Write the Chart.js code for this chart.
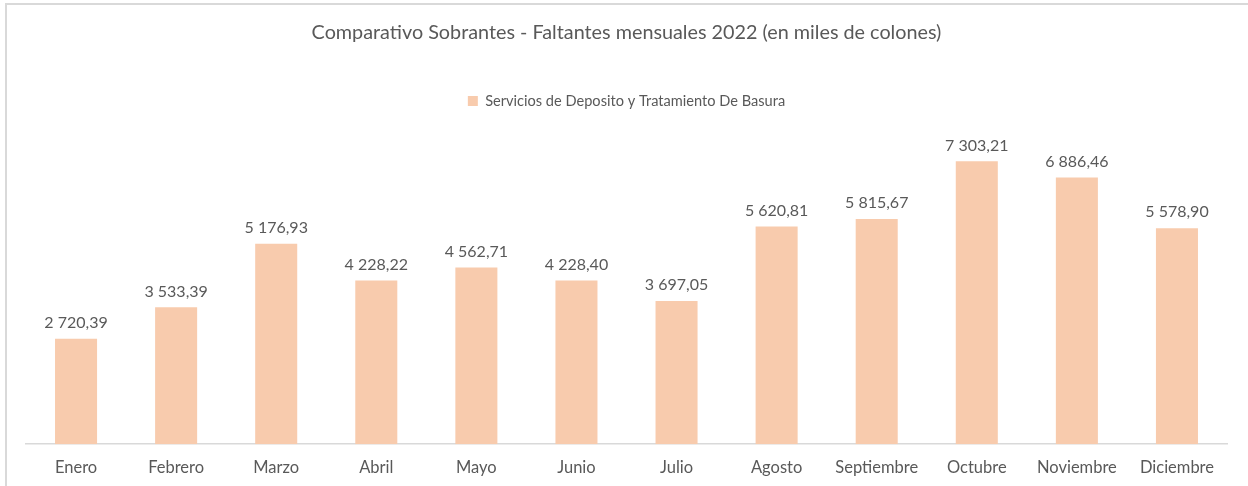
<!DOCTYPE html>
<html>
<head>
<meta charset="utf-8">
<script src="https://cdn.jsdelivr.net/npm/chart.js@4"></script>
<style>
  html, body { margin: 0; padding: 0; background: #fff; overflow: hidden; }
  #wrap { position: relative; width: 1248px; height: 486px; overflow: hidden; }
  #frame { position: absolute; left: 5px; top: 3px; width: 1300px; height: 600px; border: 2px solid #d9d9d9; box-sizing: border-box; }
  #box { position: absolute; left: 0; top: 0; width: 1248px; height: 500px; }
</style>
</head>
<body>
<div id="wrap">
  <div id="frame"></div>
  <div id="box"><canvas id="sobrantesChart"></canvas></div>
</div>
<script>
// Data
const months = ['Enero', 'Febrero', 'Marzo', 'Abril', 'Mayo', 'Junio', 'Julio', 'Agosto', 'Septiembre', 'Octubre', 'Noviembre', 'Diciembre'];
const basura = [2720.39, 3533.39, 5176.93, 4228.22, 4562.71, 4228.40, 3697.05, 5620.81, 5815.67, 7303.21, 6886.46, 5578.90];
const seriesName = 'Servicios de Deposito y Tratamiento De Basura';
const chartTitle = 'Comparativo Sobrantes - Faltantes mensuales 2022 (en miles de colones)';

const FONT = 'Lato, "Open Sans", sans-serif';
const TEXT = '#595959';

// "7 303,21" style
function fmt(v) {
  const parts = v.toFixed(2).split('.');
  const whole = parts[0].replace(/\B(?=(\d{3})+(?!\d))/g, ' ');
  return whole + ',' + parts[1];
}

// draw value labels above bars
const valueLabels = {
  id: 'valueLabels',
  afterDatasetsDraw(chart) {
    const ctx = chart.ctx;
    ctx.save();
    ctx.font = '16px ' + FONT;
    ctx.fillStyle = TEXT;
    ctx.textAlign = 'center';
    ctx.textBaseline = 'bottom';
    chart.getDatasetMeta(0).data.forEach((bar, i) => {
      ctx.fillText(fmt(basura[i]), bar.x, bar.y - 8);
    });
    ctx.restore();
  }
};

// extra space under the legend
const legendGap = {
  id: 'legendGap',
  afterInit(chart) {
    const lg = chart.legend;
    if (!lg) return;
    const fit = lg.fit;
    lg.fit = function() {
      fit.call(this);
      this.height += 16;
    };
  }
};

new Chart(document.getElementById('sobrantesChart'), {
  type: 'bar',
  data: {
    labels: months,
    datasets: [{
      label: seriesName,
      data: basura,
      backgroundColor: '#f8cbad',
      barPercentage: 0.84,
      categoryPercentage: 0.5
    }]
  },
  options: {
    responsive: true,
    maintainAspectRatio: false,
    animation: false,
    layout: { padding: { left: 26, right: 21, top: 14, bottom: 8 } },
    plugins: {
      title: {
        display: true,
        text: chartTitle,
        color: TEXT,
        font: { family: FONT, size: 19.8, weight: 'normal' },
        padding: { top: 7, bottom: 21 }
      },
      legend: {
        display: true,
        labels: {
          color: TEXT,
          font: { family: FONT, size: 14.6 },
          boxWidth: 10,
          boxHeight: 10,
          padding: 28
        }
      },
      tooltip: { enabled: false }
    },
    scales: {
      x: {
        grid: { display: false, drawTicks: false },
        border: { color: '#d9d9d9', width: 1.5 },
        ticks: { color: TEXT, font: { family: FONT, size: 16.5 }, padding: 14 }
      },
      y: {
        display: false,
        min: 0,
        max: 8000
      }
    }
  },
  plugins: [valueLabels, legendGap]
});
</script>
</body>
</html>
